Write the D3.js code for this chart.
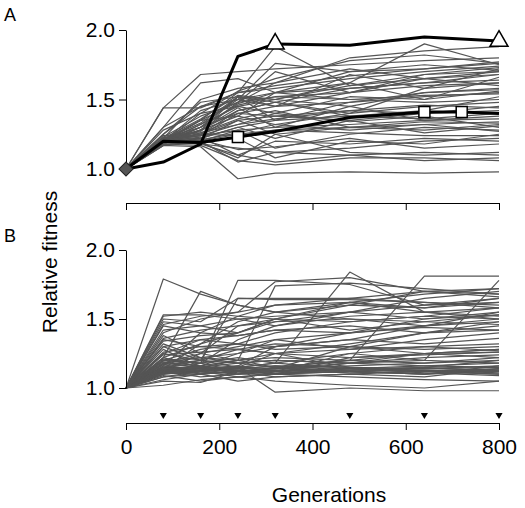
<!DOCTYPE html>
<html>
<head>
<meta charset="utf-8">
<script src="https://cdn.jsdelivr.net/npm/d3@7"></script>
<style>
html,body{margin:0;padding:0;background:#fff;}
svg{display:block;font-family:"Liberation Sans",Arial,Helvetica,sans-serif;}
</style>
</head>
<body>
<svg id="chart" width="525" height="508"></svg>
<script>
// ---- data ----
const generations = [0, 80, 160, 240, 320, 480, 640, 800];
const sampleGenerations = [80, 160, 240, 320, 480, 640, 800];
const xTickValues = [0, 200, 400, 600, 800];
const yTickValues = [1.0, 1.5, 2.0];
const panelLabels = ["A", "B"];
const xLabel = "Generations";
const yLabel = "Relative fitness";

const panelA = [
  [1.0,1.44,1.68,1.70,1.72,1.75,1.78,1.80],
  [1.0,1.30,1.62,1.65,1.55,1.70,1.72,1.76],
  [1.0,1.44,1.44,1.55,1.88,1.60,1.65,1.70],
  [1.0,1.25,1.48,1.52,1.50,1.62,1.90,1.75],
  [1.0,1.22,1.50,1.58,1.62,1.80,1.85,1.88],
  [1.0,1.20,1.42,1.50,1.55,1.58,1.62,1.68],
  [1.0,1.21,1.35,1.48,1.52,1.55,1.60,1.62],
  [1.0,1.19,1.32,1.45,1.40,1.52,1.50,1.56],
  [1.0,1.18,1.30,1.40,1.45,1.48,1.52,1.55],
  [1.0,1.20,1.28,1.38,1.32,1.40,1.45,1.48],
  [1.0,1.22,1.25,1.35,1.38,1.42,1.40,1.45],
  [1.0,1.17,1.22,1.30,1.35,1.38,1.36,1.40],
  [1.0,1.21,1.24,1.28,1.30,1.32,1.35,1.36],
  [1.0,1.19,1.20,1.25,1.28,1.30,1.32,1.34],
  [1.0,1.20,1.18,1.10,1.05,1.10,1.12,1.10],
  [1.0,1.18,1.17,1.06,1.03,1.08,1.08,1.06],
  [1.0,1.17,1.16,0.93,0.97,0.98,0.97,0.98],
  [1.0,1.20,1.18,1.15,1.12,1.15,1.20,1.22],
  [1.0,1.21,1.20,1.22,1.08,1.20,1.18,1.25],
  [1.0,1.22,1.30,1.52,1.45,1.68,1.58,1.72],
  [1.0,1.19,1.35,1.55,1.58,1.65,1.70,1.74],
  [1.0,1.23,1.38,1.48,1.70,1.55,1.68,1.70],
  [1.0,1.18,1.28,1.52,1.35,1.48,1.55,1.58],
  [1.0,1.20,1.25,1.42,1.48,1.38,1.42,1.52],
  [1.0,1.21,1.22,1.35,1.25,1.30,1.28,1.32],
  [1.0,1.19,1.26,1.32,1.40,1.34,1.38,1.30],
  [1.0,1.22,1.20,1.28,1.15,1.25,1.30,1.28],
  [1.0,1.20,1.23,1.10,1.20,1.18,1.22,1.20],
  [1.0,1.18,1.19,1.08,1.25,1.12,1.10,1.12],
  [1.0,1.21,1.27,1.48,1.62,1.72,1.65,1.68],
  [1.0,1.20,1.32,1.50,1.45,1.55,1.65,1.60],
  [1.0,1.19,1.30,1.46,1.52,1.50,1.48,1.50],
  [1.0,1.22,1.36,1.53,1.50,1.45,1.55,1.57],
  [1.0,1.20,1.24,1.40,1.38,1.35,1.40,1.42],
  [1.0,1.21,1.28,1.44,1.30,1.45,1.35,1.38],
  [1.0,1.17,1.21,1.26,1.32,1.28,1.32,1.27],
  [1.0,1.24,1.26,1.36,1.42,1.30,1.34,1.33],
  [1.0,1.19,1.22,1.30,1.22,1.35,1.26,1.31],
  [1.0,1.28,1.40,1.45,1.50,1.60,1.68,1.73],
  [1.0,1.25,1.45,1.50,1.76,1.70,1.75,1.71],
  [1.0,1.20,1.35,1.38,1.55,1.62,1.50,1.66],
  [1.0,1.18,1.28,1.42,1.48,1.40,1.58,1.62],
  [1.0,1.21,1.24,1.32,1.36,1.42,1.46,1.44],
  [1.0,1.20,1.21,1.14,1.16,1.22,1.15,1.18],
  [1.0,1.19,1.20,1.05,1.12,1.10,1.06,1.08],
  [1.0,1.22,1.25,1.24,1.28,1.26,1.24,1.24],
  [1.0,1.20,1.30,1.47,1.55,1.50,1.53,1.54],
  [1.0,1.21,1.33,1.52,1.48,1.58,1.62,1.64],
  [1.0,1.30,1.45,1.55,1.60,1.67,1.72,1.77],
  [1.0,1.19,1.40,1.56,1.65,1.78,1.82,1.76]
];

const panelB = [
  [1.0,1.79,1.68,1.60,1.55,1.50,1.45,1.48],
  [1.0,1.53,1.53,1.50,1.52,1.55,1.50,1.55],
  [1.0,1.52,1.55,1.52,1.50,1.48,1.52,1.50],
  [1.0,1.50,1.48,1.65,1.65,1.65,1.62,1.60],
  [1.0,1.48,1.45,1.40,1.50,1.60,1.70,1.68],
  [1.0,1.45,1.40,1.38,1.42,1.45,1.40,1.42],
  [1.0,1.40,1.50,1.55,1.77,1.80,1.70,1.72],
  [1.0,1.38,1.25,1.30,1.35,1.40,1.45,1.50],
  [1.0,1.35,1.30,1.28,1.32,1.30,1.28,1.30],
  [1.0,1.32,1.22,1.20,1.25,1.22,1.25,1.28],
  [1.0,1.30,1.20,1.18,1.15,1.20,1.18,1.22],
  [1.0,1.28,1.15,1.12,1.10,1.15,1.12,1.14],
  [1.0,1.25,1.20,1.65,1.64,1.64,1.62,1.58],
  [1.0,1.22,1.70,1.60,1.55,1.62,1.58,1.65],
  [1.0,1.20,1.18,1.78,1.78,1.75,1.60,1.62],
  [1.0,1.18,1.15,1.20,1.74,1.76,1.72,1.68],
  [1.0,1.16,1.12,1.15,1.18,1.84,1.55,1.50],
  [1.0,1.15,1.14,1.12,1.15,1.20,1.81,1.81],
  [1.0,1.14,1.13,1.15,1.12,1.18,1.20,1.78],
  [1.0,1.13,1.12,1.14,1.16,1.15,1.14,1.15],
  [1.0,1.12,1.14,1.13,1.12,1.13,1.15,1.12],
  [1.0,1.11,1.10,1.12,1.14,1.12,1.10,1.13],
  [1.0,1.10,1.12,1.10,1.10,1.12,1.13,1.11],
  [1.0,1.09,1.05,1.08,1.10,1.08,1.06,1.05],
  [1.0,1.08,1.10,1.15,0.97,1.00,0.98,0.98],
  [1.0,1.02,1.06,1.08,1.05,1.02,1.00,1.05],
  [1.0,1.05,1.04,1.12,1.08,1.10,1.12,1.10],
  [1.0,1.18,1.22,1.25,1.30,1.35,1.45,1.55],
  [1.0,1.20,1.28,1.32,1.40,1.48,1.52,1.58],
  [1.0,1.22,1.32,1.40,1.48,1.55,1.60,1.65],
  [1.0,1.17,1.20,1.15,1.25,1.32,1.40,1.45],
  [1.0,1.15,1.18,1.22,1.18,1.25,1.30,1.32],
  [1.0,1.14,1.16,1.20,1.22,1.20,1.25,1.26],
  [1.0,1.13,1.15,1.18,1.20,1.18,1.22,1.24],
  [1.0,1.12,1.13,1.15,1.14,1.18,1.25,1.28],
  [1.0,1.10,1.18,1.35,1.45,1.55,1.65,1.70],
  [1.0,1.12,1.25,1.45,1.50,1.62,1.68,1.72],
  [1.0,1.14,1.32,1.48,1.55,1.60,1.58,1.62],
  [1.0,1.16,1.40,1.52,1.60,1.65,1.70,1.66],
  [1.0,1.42,1.45,1.50,1.45,1.52,1.55,1.52],
  [1.0,1.36,1.42,1.45,1.48,1.50,1.48,1.46],
  [1.0,1.30,1.35,1.38,1.42,1.40,1.44,1.42],
  [1.0,1.26,1.30,1.32,1.30,1.35,1.32,1.36],
  [1.0,1.24,1.26,1.28,1.25,1.28,1.30,1.27],
  [1.0,1.21,1.18,1.12,1.14,1.16,1.18,1.20],
  [1.0,1.19,1.16,1.10,1.12,1.14,1.16,1.18],
  [1.0,1.17,1.12,1.08,1.10,1.12,1.10,1.16],
  [1.0,1.15,1.10,1.05,1.08,1.10,1.08,1.14],
  [1.0,1.12,1.08,1.10,1.15,1.12,1.10,1.12],
  [1.0,1.10,1.13,1.16,1.12,1.25,1.20,1.18],
  [1.0,1.08,1.12,1.14,1.10,1.22,1.24,1.26],
  [1.0,1.06,1.10,1.12,1.14,1.30,1.40,1.48],
  [1.0,1.11,1.14,1.16,1.30,1.40,1.50,1.53],
  [1.0,1.13,1.16,1.25,1.35,1.28,1.35,1.40],
  [1.0,1.15,1.20,1.28,1.25,1.15,1.12,1.10],
  [1.0,1.18,1.25,1.20,1.15,1.12,1.14,1.13],
  [1.0,1.20,1.22,1.18,1.20,1.18,1.16,1.15],
  [1.0,1.22,1.15,1.15,1.18,1.14,1.12,1.12],
  [1.0,1.25,1.35,1.32,1.28,1.30,1.25,1.22],
  [1.0,1.46,1.52,1.55,1.60,1.62,1.55,1.58],
  [1.0,1.34,1.38,1.40,1.50,1.42,1.48,1.53],
  [1.0,1.11,1.12,1.13,1.11,1.12,1.14,1.16],
  [1.0,1.13,1.11,1.12,1.13,1.11,1.12,1.13],
  [1.0,1.14,1.15,1.11,1.12,1.14,1.11,1.09],
  [1.0,1.12,1.13,1.14,1.16,1.13,1.15,1.20]
];

// highlighted lineages in panel A
const triangleGens = [0, 80, 160, 240, 320, 480, 640, 800];
const triangleVals = [1.0, 1.05, 1.18, 1.81, 1.90, 1.89, 1.95, 1.92];
const triangleMarkerGens = [320, 800];
const squareGens = [0, 80, 160, 240, 320, 480, 640, 720, 800];
const squareVals = [1.0, 1.20, 1.19, 1.23, 1.27, 1.37, 1.41, 1.41, 1.40];
const squareMarkerGens = [240, 640, 720];
const ancestor = {gen: 0, val: 1.0};

// ---- drawing ----
const svg = d3.select("#chart");
const FONT = 21;
const x = d3.scaleLinear().domain([0, 800]).range([126, 499]);
const yA = d3.scaleLinear().domain([1, 2]).range([169, 30]);
const yB = d3.scaleLinear().domain([1, 2]).range([388, 250]);
const grey = "#555555";

function drawPanel(data, y) {
  const line = d3.line().x((d, i) => x(generations[i])).y(d => y(d));
  const g = svg.append("g");
  g.selectAll("path.run").data(data).join("path")
    .attr("class", "run")
    .attr("d", line)
    .attr("fill", "none")
    .attr("stroke", grey)
    .attr("stroke-width", 1.2)
    .attr("stroke-linejoin", "round");
  const ax = svg.append("g")
    .attr("transform", `translate(${x(0)},0)`)
    .call(d3.axisLeft(y).tickValues(yTickValues).tickFormat(d3.format(".1f"))
      .tickSizeInner(7).tickSizeOuter(0).tickPadding(4));
  ax.selectAll("text").attr("font-size", FONT).attr("fill", "#000")
    .attr("font-family", "Liberation Sans, Arial, sans-serif");
  ax.selectAll("path,line").attr("stroke", "#000").attr("stroke-width", 1);
  return g;
}

const gA = drawPanel(panelA, yA);
drawPanel(panelB, yB);

// black highlighted lines
const lineT = d3.line().x((d, i) => x(triangleGens[i])).y(d => yA(d));
const lineS = d3.line().x((d, i) => x(squareGens[i])).y(d => yA(d));
svg.append("path").attr("d", lineS(squareVals)).attr("fill", "none")
  .attr("stroke", "#000").attr("stroke-width", 3).attr("stroke-linejoin", "round");
svg.append("path").attr("d", lineT(triangleVals)).attr("fill", "none")
  .attr("stroke", "#000").attr("stroke-width", 3).attr("stroke-linejoin", "round");

// markers
svg.selectAll("path.tri").data(triangleMarkerGens).join("path")
  .attr("class", "tri")
  .attr("d", d3.symbol(d3.symbolTriangle, 140))
  .attr("transform", g => `translate(${x(g)},${yA(triangleVals[triangleGens.indexOf(g)])})`)
  .attr("fill", "#fff").attr("stroke", "#000").attr("stroke-width", 1.5);
svg.selectAll("rect.sq").data(squareMarkerGens).join("rect")
  .attr("class", "sq")
  .attr("x", g => x(g) - 5.5)
  .attr("y", g => yA(squareVals[squareGens.indexOf(g)]) - 5.5)
  .attr("width", 11).attr("height", 11)
  .attr("fill", "#fff").attr("stroke", "#000").attr("stroke-width", 1.5);
svg.append("path")
  .attr("d", d3.symbol(d3.symbolSquare, 100))
  .attr("transform", `translate(${x(ancestor.gen)},${yA(ancestor.val)}) rotate(45)`)
  .attr("fill", "#555").attr("stroke", "#222").attr("stroke-width", 1);

// x axis under panel A (no labels)
const axTop = svg.append("g").attr("transform", "translate(0,203)")
  .call(d3.axisBottom(x).tickValues(xTickValues).tickFormat("").tickSizeInner(7).tickSizeOuter(0));
axTop.selectAll("path,line").attr("stroke", "#000");

// bottom x axis
const axBot = svg.append("g").attr("transform", "translate(0,423)")
  .call(d3.axisBottom(x).tickValues(xTickValues).tickFormat(d3.format("d"))
    .tickSizeInner(7).tickSizeOuter(0).tickPadding(9));
axBot.selectAll("path,line").attr("stroke", "#000");
axBot.selectAll("text").attr("font-size", FONT).attr("fill", "#000")
  .attr("font-family", "Liberation Sans, Arial, sans-serif");

// sampling triangles
svg.selectAll("path.samp").data(sampleGenerations).join("path")
  .attr("class", "samp")
  .attr("d", d3.symbol(d3.symbolTriangle, 22))
  .attr("transform", g => `translate(${x(g)},415) rotate(180)`)
  .attr("fill", "#000");

// labels
svg.append("text").attr("x", 329).attr("y", 502).attr("text-anchor", "middle")
  .attr("font-size", FONT).text(xLabel);
svg.append("text").attr("transform", "translate(57,262) rotate(-90)")
  .attr("text-anchor", "middle").attr("font-size", FONT).text(yLabel);
svg.append("text").attr("x", 4).attr("y", 21).attr("font-size", 18).text(panelLabels[0]);
svg.append("text").attr("x", 4).attr("y", 242).attr("font-size", 18).text(panelLabels[1]);
</script>
</body>
</html>
